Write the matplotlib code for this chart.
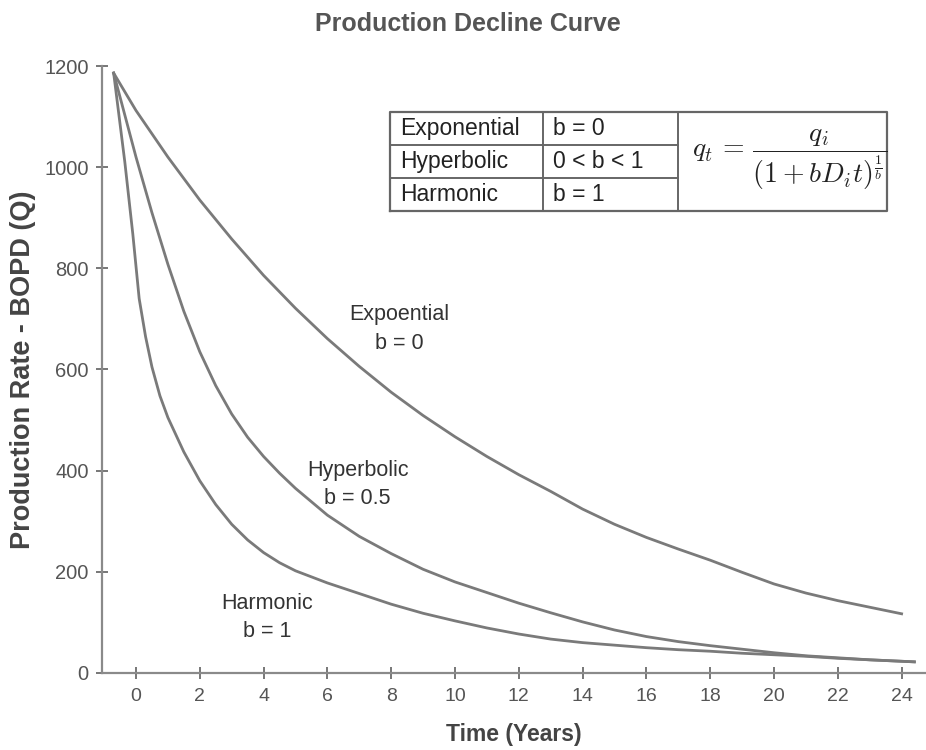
import numpy as np
import matplotlib
matplotlib.use("Agg")
import matplotlib.pyplot as plt

plt.rcParams['font.family'] = ['Liberation Sans', 'DejaVu Sans']

# values (time in years, rate in BOPD)
t_exp = [-0.7, 0, 1, 2, 3, 4, 5, 6, 7, 8, 9, 10, 11, 12, 13, 14, 15, 16, 17, 18, 19, 20, 21, 22, 23, 24]
q_exp = [1186, 1112, 1020, 935, 858, 786, 721, 661, 606, 555, 509, 467, 428, 392, 359, 324, 294, 268, 245, 223, 199, 176, 158, 143, 130, 117]

t_hyp = [-0.7, 0, 0.5, 1, 1.5, 2, 2.5, 3, 3.5, 4, 4.5, 5, 6, 7, 8, 9, 10, 11, 12, 13, 14, 15, 16, 17, 18, 19, 20, 21, 22, 23, 24.4]
q_hyp = [1186, 1020, 910, 808, 715, 635, 568, 512, 466, 428, 395, 365, 312, 270, 236, 205, 180, 159, 138, 119, 101, 85, 72, 62, 54, 47, 40, 34, 30, 26, 22]

t_har = [-0.7, -0.35, -0.1, 0.1, 0.3, 0.5, 0.75, 1, 1.5, 2, 2.5, 3, 3.5, 4, 4.5, 5, 6, 7, 8, 9, 10, 11, 12, 13, 14, 15, 16, 17, 18, 19, 20, 21, 22, 23, 24.4]
q_har = [1186, 1010, 868, 740, 665, 605, 548, 505, 437, 380, 333, 294, 263, 238, 218, 202, 178, 157, 136, 118, 103, 89, 77, 67, 60, 55, 50, 46, 43, 39, 36, 33, 29, 26, 22]

x_ticks = list(range(0, 25, 2))
y_ticks = [0, 200, 400, 600, 800, 1000, 1200]

table_rows = [["Exponential", "b = 0"], ["Hyperbolic", "0 < b < 1"], ["Harmonic", "b = 1"]]

line_col = '#7a7a7a'
text_col = '#555555'

fig = plt.figure(figsize=(9.26, 7.5), dpi=100)
ax = fig.add_axes([0.110, 0.1027, 0.8895, 0.8093])

ax.plot(t_exp, q_exp, color=line_col, lw=2.0)
ax.plot(t_hyp, q_hyp, color=line_col, lw=2.0)
ax.plot(t_har, q_har, color=line_col, lw=2.0)

ax.set_xlim(-1.07, 24.75)
ax.set_ylim(0, 1200)
ax.set_xticks(x_ticks)
ax.set_yticks(y_ticks)
for s in ['top', 'right']:
    ax.spines[s].set_visible(False)
for s in ['left', 'bottom']:
    ax.spines[s].set_color('#8a8a8a')
    ax.spines[s].set_linewidth(1.6)
ax.tick_params(axis='both', direction='inout', length=9, width=1.4, color='#777777',
               labelcolor=text_col)
ax.tick_params(axis='x', labelsize=14, pad=6)
ax.tick_params(axis='y', labelsize=14.5, pad=5)

ax.set_xlabel('Time (Years)', fontsize=16.5, fontweight='bold', color='#444444')
ax.xaxis.set_label_coords(0.5, -0.082)
ax.set_ylabel('Production Rate - BOPD (Q)', fontsize=19.5, fontweight='bold', color='#444444')
ax.yaxis.set_label_coords(-0.080, 0.5)
fig.text(0.505, 0.968, 'Production Decline Curve', ha='center', va='center',
         fontsize=18, fontweight='bold', color=text_col)

# curve labels
ax.text(8.25, 680, 'Expoential\nb = 0', ha='center', va='center', fontsize=15.5,
        color='#333333', linespacing=1.45)
ax.text(6.95, 372, 'Hyperbolic\nb = 0.5', ha='center', va='center', fontsize=15.5,
        color='#333333', linespacing=1.45)
ax.text(4.1, 109, 'Harmonic\nb = 1', ha='center', va='center', fontsize=15.5,
        color='#333333', linespacing=1.45)

# table box with the formula
tx = fig.add_axes([390 / 926, 1 - 211 / 750, 497 / 926, 99 / 750])
tx.set_xlim(0, 497)
tx.set_ylim(0, 99)
tx.axis('off')
bc = '#666666'
tx.plot([0, 497, 497, 0, 0], [0, 0, 99, 99, 0], color=bc, lw=1.6, clip_on=False)
tx.plot([153, 153], [0, 99], color=bc, lw=1.4)
tx.plot([288, 288], [0, 99], color=bc, lw=1.4)
tx.plot([0, 288], [66, 66], color=bc, lw=1.4)
tx.plot([0, 288], [33, 33], color=bc, lw=1.4)
for i, (name, bval) in enumerate(table_rows):
    yc = 99 - 16.5 - 33 * i
    tx.text(10, yc, name, ha='left', va='center', fontsize=16.5, color='#222222')
    tx.text(163, yc, bval, ha='left', va='center', fontsize=16.5, color='#222222')
tx.text(400, 51, r'$q_t\,=\,\dfrac{q_i}{(1 + bD_i t)^{\frac{1}{b}}}$', ha='center', va='center',
        fontsize=20, color='#222222', math_fontfamily='cm')

fig.savefig('out.png', dpi=100)
